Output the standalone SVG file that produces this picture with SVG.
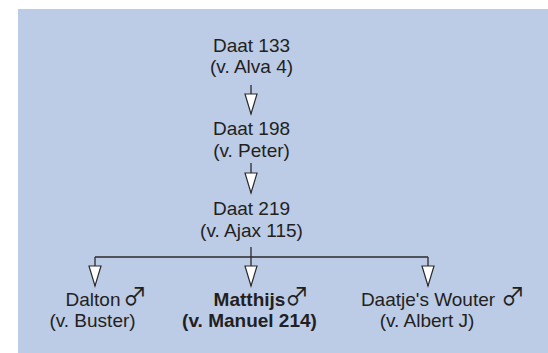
<svg xmlns="http://www.w3.org/2000/svg" width="548" height="353" viewBox="0 0 548 353">
<style>
.t{font-family:"Liberation Sans",Arial,sans-serif;font-size:19px;fill:#231f20;text-anchor:middle}
.b{font-weight:bold}
.s{font-family:"Noto Sans CJK SC","DejaVu Sans",sans-serif;font-size:24px;fill:#231f20;text-anchor:start}
.c{fill:none;stroke:#2b2b2b;stroke-width:1.3}
</style>
<defs>
<marker id="ah" markerUnits="userSpaceOnUse" markerWidth="24" markerHeight="16" viewBox="-1 -8 23 16" refX="20" refY="0" orient="auto">
<path d="M0,-6 L20,0 L0,6 Z" fill="#fff" stroke="#2b2b2b" stroke-width="1.2" stroke-linejoin="miter"/>
</marker>
</defs>
<rect x="18" y="9" width="530" height="344" fill="#bccbe6"/>
<g id="connectors">
<path class="c" d="M251,85 V114" marker-end="url(#ah)"/>
<path class="c" d="M251,163 V193" marker-end="url(#ah)"/>
<path class="c" d="M251,247 V257 M95,257 H428"/>
<path class="c" d="M95,257 V286" marker-end="url(#ah)"/>
<path class="c" d="M251,257 V286" marker-end="url(#ah)"/>
<path class="c" d="M428,257 V286" marker-end="url(#ah)"/>
</g>
<g id="daat133">
<text class="t" x="251.5" y="52">Daat 133</text>
<text class="t" x="251.5" y="73">(v. Alva 4)</text>
</g>
<g id="daat198">
<text class="t" x="251.5" y="135">Daat 198</text>
<text class="t" x="251.5" y="156.5">(v. Peter)</text>
</g>
<g id="daat219">
<text class="t" x="251.5" y="215">Daat 219</text>
<text class="t" x="251.5" y="237">(v. Ajax 115)</text>
</g>
<g id="dalton">
<text class="t" x="93" y="306">Dalton</text>
<text class="s" x="123" y="305">♂</text>
<text class="t" x="92.5" y="327">(v. Buster)</text>
</g>
<g id="matthijs">
<text class="t b" x="249.5" y="306">Matthijs</text>
<text class="s" x="285" y="305">♂</text>
<text class="t b" x="249.5" y="327">(v. Manuel 214)</text>
</g>
<g id="wouter">
<text class="t" x="428" y="306">Daatje's Wouter</text>
<text class="s" x="501" y="305">♂</text>
<text class="t" x="427" y="327">(v. Albert J)</text>
</g>
</svg>
